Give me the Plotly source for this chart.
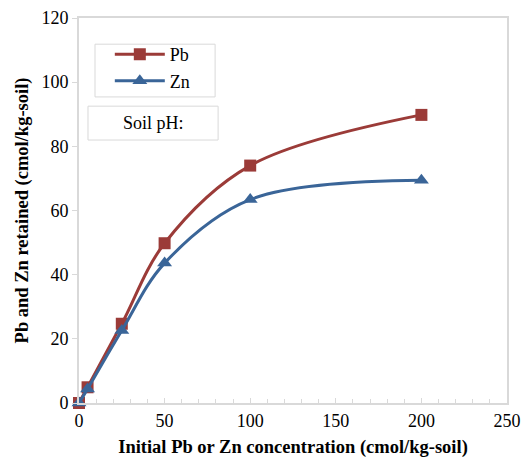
import plotly.graph_objects as go

conc = [0, 5, 25, 50, 100, 200]
pb_retained = [0, 4.9, 24.7, 49.8, 74, 89.8]
zn_retained = [0, 4.4, 22.6, 43.6, 63.4, 69.4]

PB_COLOR = "#9B3B38"
ZN_COLOR = "#3A6598"
AXIS_COLOR = "#D9D9D9"
FONT = "Liberation Serif"

fig = go.Figure()
fig.add_trace(go.Scatter(
    x=conc, y=pb_retained, name="Pb", mode="lines+markers", legendgroup="a",
    line=dict(color=PB_COLOR, width=3, shape="spline", smoothing=1.0),
    marker=dict(symbol="square", size=12, color=PB_COLOR),
    cliponaxis=False,
))
fig.add_trace(go.Scatter(
    x=conc, y=zn_retained, name="Zn", mode="lines+markers", legendgroup="b",
    line=dict(color=ZN_COLOR, width=3, shape="spline", smoothing=1.0),
    marker=dict(symbol="triangle-up", size=13, color=ZN_COLOR),
    cliponaxis=False,
))

fig.update_layout(
    width=527, height=458,
    margin=dict(l=79, r=20, t=18, b=55),
    plot_bgcolor="white", paper_bgcolor="white",
    font=dict(family=FONT, size=18, color="black"),
    legend=dict(
        x=0.072, y=0.953, xanchor="left", yanchor="top",
        borderwidth=0, bgcolor="rgba(0,0,0,0)",
        font=dict(family=FONT, size=18), itemwidth=50,
        traceorder="grouped", tracegroupgap=0,
    ),
    shapes=[
        dict(type="rect", xref="paper", yref="paper",
             x0=0.0374, x1=0.318, y0=0.795, y1=0.932,
             line=dict(color=AXIS_COLOR, width=1)),
        dict(type="rect", xref="paper", yref="paper",
             x0=0.021, x1=0.325, y0=0.683, y1=0.771,
             line=dict(color=AXIS_COLOR, width=1)),
    ],
    annotations=[dict(
        text="Soil pH:", xref="paper", yref="paper", x=0.173, y=0.727,
        xanchor="center", yanchor="middle",
        showarrow=False, font=dict(family=FONT, size=18),
    )],
)

fig.update_xaxes(
    range=[0, 250], tickvals=[0, 50, 100, 150, 200, 250],
    showgrid=False, zeroline=False, automargin=False,
    showline=True, linecolor=AXIS_COLOR, linewidth=2, mirror=True,
    ticks="inside", ticklen=5, tickcolor=AXIS_COLOR, tickwidth=1,
    minor=dict(dtick=10, ticks="inside", ticklen=4, tickcolor=AXIS_COLOR, showgrid=False),
    title=dict(text="<b>Initial Pb or Zn concentration (cmol/kg-soil)</b>",
               font=dict(family=FONT, size=18.5), standoff=12),
    tickfont=dict(family=FONT, size=18),
)
fig.update_yaxes(
    range=[0, 120], tickvals=[0, 20, 40, 60, 80, 100, 120],
    showgrid=False, zeroline=False, automargin=False,
    showline=True, linecolor=AXIS_COLOR, linewidth=2, mirror=True,
    ticks="outside", ticklen=5, tickcolor=AXIS_COLOR, tickwidth=1,
    title=dict(text="<b>Pb and Zn retained (cmol/kg-soil)</b>",
               font=dict(family=FONT, size=18.5), standoff=8),
    tickfont=dict(family=FONT, size=18),
)

fig.write_html("out.html")
